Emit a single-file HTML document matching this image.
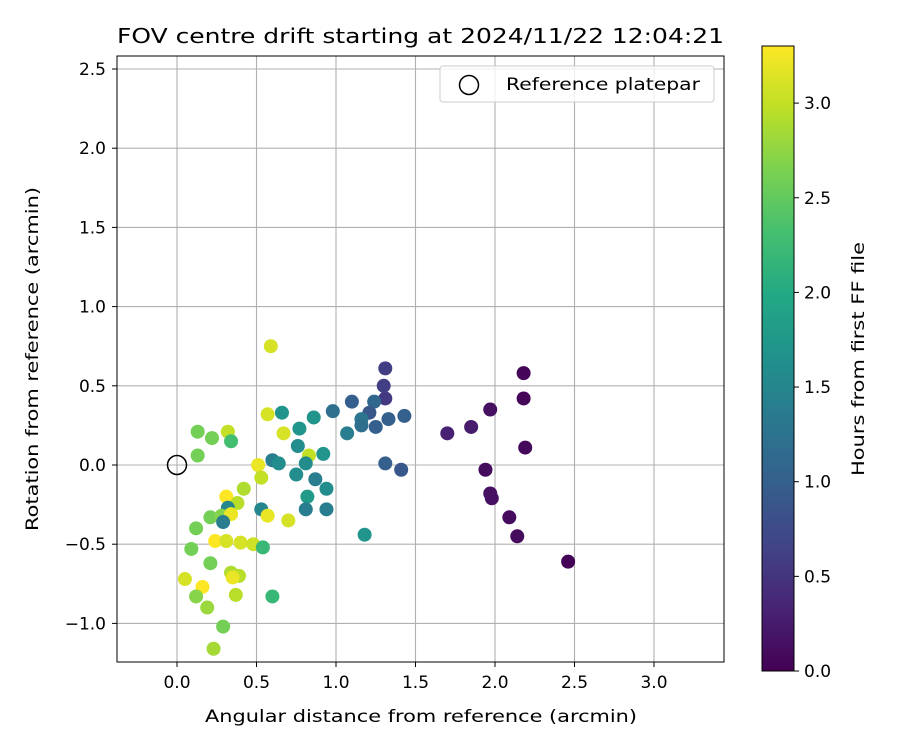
<!DOCTYPE html>
<html><head><meta charset="utf-8"><style>
body{margin:0;background:#fff}
svg{display:block;font-family:"DejaVu Sans","Liberation Sans",sans-serif}
</style></head><body>
<svg id="chart" width="900" height="750" viewBox="0 0 900 750">
<defs><linearGradient id="vir" x1="0" y1="1" x2="0" y2="0">
<stop offset="0" stop-color="#440154"/><stop offset="0.1" stop-color="#482475"/><stop offset="0.2" stop-color="#414487"/><stop offset="0.3" stop-color="#355f8d"/><stop offset="0.4" stop-color="#2a788e"/><stop offset="0.5" stop-color="#21918c"/><stop offset="0.6" stop-color="#22a884"/><stop offset="0.7" stop-color="#44bf70"/><stop offset="0.8" stop-color="#7ad151"/><stop offset="0.9" stop-color="#bddf26"/><stop offset="1" stop-color="#fde725"/>
</linearGradient></defs>
<text x="117" y="43" font-size="20.8" textLength="607" lengthAdjust="spacingAndGlyphs">FOV centre drift starting at 2024/11/22 12:04:21</text>
<g id="grid"></g>
<g id="pts"></g>
<rect x="117" y="56" width="607" height="606" fill="none" stroke="#000" stroke-width="1"/>
<g id="ticks" font-size="17"></g>
<text x="205" y="722" font-size="17" textLength="432" lengthAdjust="spacingAndGlyphs">Angular distance from reference (arcmin)</text>
<text transform="translate(38,531) rotate(-90)" font-size="17" textLength="344" lengthAdjust="spacingAndGlyphs">Rotation from reference (arcmin)</text>
<g>
<rect x="440" y="66" width="274" height="36" rx="3" fill="#fff" fill-opacity="0.8" stroke="#ccc"/>
<circle cx="469" cy="85" r="9.5" fill="none" stroke="#000" stroke-width="1.5"/>
<text x="506" y="90" font-size="17" textLength="194" lengthAdjust="spacingAndGlyphs">Reference platepar</text>
</g>
<rect x="762" y="46" width="32" height="625" fill="url(#vir)" stroke="#000" stroke-width="1"/>
<g id="cbticks" font-size="17"></g>
<text transform="translate(864,476) rotate(-90)" font-size="17" textLength="234" lengthAdjust="spacingAndGlyphs">Hours from first FF file</text>
</svg>
<script>
const xVals=[0.59,0.57,0.66,0.67,0.77,0.86,0.13,0.22,0.32,0.34,0.13,0.51,0.53,0.83,0.42,0.31,0.38,0.32,0.21,0.28,0.34,0.29,0.12,0.53,0.57,0.70,0.24,0.31,0.40,0.48,0.54,0.09,0.21,0.34,0.39,0.35,0.05,0.16,0.12,0.37,0.60,0.19,0.29,0.23,
1.31,1.30,1.31,1.10,1.24,1.21,0.98,1.43,1.33,1.16,1.16,1.25,1.07,0.76,0.92,0.81,0.60,0.64,0.75,0.87,0.94,0.82,0.81,0.94,1.31,1.41,1.18,1.70,
2.18,2.18,2.19,1.97,1.85,1.94,1.97,1.98,2.09,2.14,2.46];
const yVals=[0.75,0.32,0.33,0.20,0.23,0.30,0.21,0.17,0.21,0.15,0.06,0.00,-0.08,0.06,-0.15,-0.20,-0.24,-0.27,-0.33,-0.32,-0.31,-0.36,-0.40,-0.28,-0.32,-0.35,-0.48,-0.48,-0.49,-0.50,-0.52,-0.53,-0.62,-0.68,-0.70,-0.71,-0.72,-0.77,-0.83,-0.82,-0.83,-0.90,-1.02,-1.16,
0.61,0.50,0.42,0.40,0.40,0.33,0.34,0.31,0.29,0.29,0.25,0.24,0.20,0.12,0.07,0.01,0.03,0.01,-0.06,-0.09,-0.15,-0.20,-0.28,-0.28,0.01,-0.03,-0.44,0.20,
0.58,0.42,0.11,0.35,0.24,-0.03,-0.18,-0.21,-0.33,-0.45,-0.61];
const hours=[3.1,3.1,1.7,3.1,1.7,1.7,2.6,2.6,3.0,2.3,2.6,3.2,3.0,3.0,2.9,3.3,2.95,1.5,2.6,2.7,3.2,1.4,2.6,1.5,3.2,3.1,3.3,3.1,3.1,3.05,2.2,2.6,2.6,2.9,2.95,3.2,3.1,3.3,2.7,2.95,2.2,2.8,2.6,2.85,
0.6,0.6,0.55,1.0,1.1,0.9,1.2,1.0,1.0,1.3,1.2,1.0,1.4,1.6,1.7,1.6,1.4,1.6,1.6,1.4,1.6,1.8,1.4,1.4,1.0,0.9,1.7,0.3,
0.05,0.05,0.08,0.15,0.25,0.1,0.15,0.15,0.1,0.1,0.02];
const xTicks=[0,0.5,1,1.5,2,2.5,3];
const yTicks=[-1,-0.5,0,0.5,1,1.5,2,2.5];
const cTicks=[0,0.5,1,1.5,2,2.5,3];
const NS="http://www.w3.org/2000/svg";
const X=v=>177+v*159, Y=v=>465-v*158.4, C=v=>671-v*189.3;
const stops=["#440154","#482475","#414487","#355f8d","#2a788e","#21918c","#22a884","#44bf70","#7ad151","#bddf26","#fde725"];
function hex(c){return [1,3,5].map(i=>parseInt(c.substr(i,2),16));}
function vir(h){let t=Math.max(0,Math.min(1,h/3.3))*10;let i=Math.min(9,Math.floor(t)),f=t-i;
const a=hex(stops[i]),b=hex(stops[i+1]);return "rgb("+a.map((v,k)=>Math.round(v+(b[k]-v)*f)).join(",")+")";}
function el(tag,attrs,parent,txt){const e=document.createElementNS(NS,tag);for(const k in attrs)e.setAttribute(k,attrs[k]);if(txt!==undefined)e.textContent=txt;parent.appendChild(e);return e;}
const grid=document.getElementById('grid'),ticks=document.getElementById('ticks'),pts=document.getElementById('pts'),cb=document.getElementById('cbticks');
const fmt=v=>(v<0?"\u2212":"")+Math.abs(v).toFixed(1);
xTicks.forEach(v=>{const gl=el('line',{x1:X(v),x2:X(v),y1:56,y2:662,stroke:'#b0b0b0','stroke-width':1.1},grid);

el('line',{x1:X(v),x2:X(v),y1:662,y2:667,stroke:'#000'},ticks);
const t=el('text',{x:X(v),y:688,'text-anchor':'middle'},ticks,fmt(v));
});
yTicks.forEach(v=>{const gl=el('line',{x1:117,x2:724,y1:Y(v),y2:Y(v),stroke:'#b0b0b0','stroke-width':1.1},grid);

el('line',{x1:112,x2:117,y1:Y(v),y2:Y(v),stroke:'#000'},ticks);
const t=el('text',{x:106,y:Y(v)+6,'text-anchor':'end'},ticks,fmt(v));
});
cTicks.forEach(v=>{el('line',{x1:794,x2:799,y1:C(v),y2:C(v),stroke:'#000'},cb);
const t=el('text',{x:804,y:C(v)+6},cb,v.toFixed(1));
});
xVals.forEach((xv,i)=>{const c=el('circle',{cx:X(xv),cy:Y(yVals[i]),r:7,fill:vir(hours[i])},pts);
});
const ref=el('circle',{cx:X(0),cy:Y(0),r:9.5,fill:'none',stroke:'#000','stroke-width':1.5},pts);


</script>
</body></html>
